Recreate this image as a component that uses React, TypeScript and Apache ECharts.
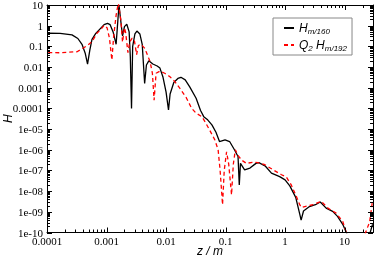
import React, { useEffect, useRef } from "react";
import * as echarts from "echarts";

// ---- data ----
const xTickLabels = ["0.0001", "0.001", "0.01", "0.1", "1", "10"]; // 1e-4 .. 1e1
const yTickLabels = ["1e-10", "1e-09", "1e-08", "1e-07", "1e-06", "1e-05", "0.0001", "0.001", "0.01", "0.1", "1", "10"]; // 1e-10 .. 1e1

const seriesNames = ["H_m160", "Q2_H_m192"];

const blackZ = [
  1e-4, 1.66e-4, 2.63e-4, 3.3e-4, 3.9e-4, 4.4e-4, 4.8e-4, 5.25e-4, 5.7e-4, 6.6e-4,
  7.8e-4, 9.1e-4, 1.04e-3, 1.15e-3, 1.29e-3, 1.45e-3, 1.51e-3, 1.62e-3, 1.74e-3, 1.86e-3,
  2.0e-3, 2.19e-3, 2.4e-3, 2.51e-3, 2.63e-3, 2.75e-3, 3.0e-3, 3.24e-3, 3.63e-3, 3.98e-3,
  4.37e-3, 4.68e-3, 5.13e-3, 6.0e-3, 7.1e-3, 7.9e-3, 8.9e-3, 1.0e-2, 1.1e-2, 1.17e-2,
  1.35e-2, 1.58e-2, 1.78e-2, 2.1e-2, 2.5e-2, 3.2e-2, 3.8e-2, 4.3e-2, 5.0e-2, 5.9e-2,
  6.9e-2, 7.9e-2, 9.8e-2, 0.117, 0.141, 0.162, 0.17, 0.178, 0.209, 0.257,
  0.324, 0.363, 0.468, 0.59, 0.81, 1.0, 1.2, 1.51, 1.76, 1.86,
  2.04, 2.57, 3.24, 3.9, 4.9, 6.3, 7.6, 9.3, 10.7, 14,
  24, 26.3, 29.5,
];
const blackH = [
  0.43, 0.42, 0.36, 0.24, 0.12, 0.045, 0.014, 0.068, 0.22, 0.42,
  0.7, 1.12, 1.3, 1.12, 0.5, 0.126, 0.63, 10, 1.6, 0.32,
  0.9, 1.17, 0.5, 0.032, 1e-4, 0.1, 0.4, 0.55, 0.4, 0.126,
  1.6e-3, 1.26e-2, 2.0e-2, 1.4e-2, 1.12e-2, 8.9e-3, 3.2e-3, 6.3e-4, 8.5e-5, 5e-4,
  1.8e-3, 2.8e-3, 3.2e-3, 2.4e-3, 1.1e-3, 3.1e-4, 7.9e-5, 4e-5, 2.8e-5, 1.6e-5,
  7e-6, 2.5e-6, 3e-6, 2.5e-6, 1e-6, 4.7e-7, 2e-8, 2.2e-7, 1.07e-7, 1.3e-7,
  2.2e-7, 2.4e-7, 1.6e-7, 7.4e-8, 5e-8, 3.5e-8, 1.8e-8, 5e-9, 8e-10, 4e-10,
  1.1e-9, 1.8e-9, 2.2e-9, 3e-9, 1.5e-9, 1.05e-9, 6e-10, 2.5e-10, 1e-10, 1e-11,
  1e-11, 8e-11, 2.5e-10,
];

const redZ = [
  1.05e-4, 1.66e-4, 3.2e-4, 4e-4, 4.9e-4, 5.7e-4, 6.9e-4, 8.3e-4, 9.1e-4, 1.02e-3,
  1.12e-3, 1.23e-3, 1.32e-3, 1.45e-3, 1.58e-3, 1.74e-3, 1.86e-3, 2.0e-3, 2.1e-3, 2.29e-3,
  2.45e-3, 2.7e-3, 2.95e-3, 3.2e-3, 3.43e-3, 3.8e-3, 4.4e-3, 5.4e-3, 5.9e-3, 6.3e-3,
  6.8e-3, 7.9e-3, 9.5e-3, 1.15e-2, 1.4e-2, 1.7e-2, 2.2e-2, 2.7e-2, 3.2e-2, 4e-2,
  4.5e-2, 5.4e-2, 6.6e-2, 7.5e-2, 8.1e-2, 8.9e-2, 9.5e-2, 0.104, 0.113, 0.126,
  0.135, 0.146, 0.16, 0.185, 0.224, 0.29, 0.35, 0.457, 0.63, 0.87,
  1.05, 1.27, 1.55, 1.76, 1.9, 2.14, 2.95, 4.07, 5.25, 7.2,
  9.3, 10.7, 12, 19.3, 22.5, 26.3, 29.5,
];
const redH = [
  0.05, 0.049, 0.055, 0.081, 0.117, 0.17, 0.43, 0.74, 1.05, 0.8,
  0.25, 0.022, 0.32, 3.2, 12.6, 1.9, 0.16, 0.8, 0.45, 0.05,
  0.16, 0.25, 0.18, 0.04, 0.11, 0.126, 0.08, 0.018, 5e-3, 2.5e-4,
  5e-3, 6.3e-3, 5e-3, 3.5e-3, 2e-3, 9.5e-4, 3.2e-4, 1e-4, 5.9e-5, 4e-5,
  2.3e-5, 9e-6, 3e-6, 1e-6, 1e-7, 2.2e-9, 1e-7, 8e-7, 2e-7, 6.6e-9,
  2e-7, 1e-6, 5.6e-7, 3.2e-7, 2.2e-7, 2.5e-7, 2.4e-7, 1.9e-7, 1.07e-7, 6.2e-8,
  4.8e-8, 2e-8, 5.5e-9, 2.2e-9, 1.6e-9, 1.8e-9, 2.2e-9, 3.2e-9, 1.5e-9, 8.7e-10,
  3.4e-10, 1e-10, 1.6e-11, 1.6e-11, 1e-10, 3.2e-10, 3.5e-9,
];

const X_MIN = 1e-4;
const X_MAX = 30;
const Y_MIN = 1e-10;
const Y_MAX = 10;

function labelFor(v: number, labels: string[], firstExp: number): string {
  const l = Math.log10(v);
  const e = Math.round(l);
  if (Math.abs(l - e) > 1e-6) return "";
  return labels[e - firstExp] ?? "";
}

export default function App() {
  const ref = useRef<HTMLDivElement>(null);
  useEffect(() => {
    if (!ref.current) return;
    const chart = echarts.init(ref.current, undefined, { renderer: "svg" });

    // tick positions (major 10^k and minor 2..9 x 10^k) inside the axis ranges
    const tickData: number[][] = [];
    for (let e = -4; e <= 1; e++) {
      for (let m = 1; m <= 9; m++) {
        const v = m * Math.pow(10, e);
        if (v < X_MAX) tickData.push([v, 1, 0, m === 1 ? 5 : 3]);
      }
    }
    for (let e = -10; e <= 1; e++) {
      for (let m = 1; m <= 9; m++) {
        const v = m * Math.pow(10, e);
        if (v <= Y_MAX) tickData.push([1, v, 1, m === 1 ? 5 : 3]);
      }
    }

    const serif = "Liberation Serif";
    const sans = "Liberation Sans";
    const black = "#000";

    const baseX = {
      type: "log" as const,
      logBase: 10,
      min: X_MIN,
      max: X_MAX,
      interval: 1,
      splitLine: { show: false },
      axisLine: { show: true, lineStyle: { color: black, width: 1 } },
      axisTick: { show: false },
    };
    const baseY = {
      type: "log" as const,
      logBase: 10,
      min: Y_MIN,
      max: Y_MAX,
      interval: 1,
      splitLine: { show: false },
      axisLine: { show: true, lineStyle: { color: black, width: 1 } },
      axisTick: { show: false },
    };

    const sub = { fontSize: 8, fontFamily: sans, fontStyle: "italic", padding: [6, 0, 0, 0], color: "#000" };
    const main = { fontSize: 12, fontFamily: sans, fontStyle: "italic", color: "#000" };

    chart.setOption({
      animation: false,
      grid: { left: 47, right: 1, top: 5, bottom: 25.5, containLabel: false, outerBoundsMode: "none" },
      legend: {
        data: seriesNames,
        orient: "vertical",
        left: 273,
        top: 18,
        padding: [4, 5, 3, 10],
        itemGap: 4,
        itemWidth: 10,
        itemHeight: 10,
        borderColor: "#888",
        borderWidth: 1,
        borderRadius: 0,
        backgroundColor: "#fff",
        itemStyle: { opacity: 0, borderWidth: 0 },
        formatter: (name: string) =>
          name === seriesNames[0] ? "{i|H}{s|m/160}" : "{i|Q}{s|2}{i| H}{s|m/192}",
        textStyle: { rich: { i: main, s: sub } },
      },
      xAxis: [
        {
          ...baseX,
          position: "bottom",
          name: "z / m",
          nameLocation: "middle",
          nameGap: 12.5,
          nameMoveOverlap: false,
          nameTextStyle: { fontFamily: sans, fontStyle: "italic", fontSize: 12, color: black },
          axisLabel: {
            show: true,
            margin: 3,
            fontFamily: serif,
            fontSize: 11,
            color: black,
            formatter: (v: number) => labelFor(v, xTickLabels, -4),
          },
        },
        { ...baseX, position: "top", axisLabel: { show: false } },
      ],
      yAxis: [
        {
          ...baseY,
          position: "left",
          name: "H",
          nameLocation: "middle",
          nameGap: 33,
          nameRotate: 90,
          nameMoveOverlap: false,
          nameTextStyle: { fontFamily: sans, fontStyle: "italic", fontSize: 12, color: black },
          axisLabel: {
            show: true,
            margin: 4,
            fontFamily: serif,
            fontSize: 11,
            color: black,
            formatter: (v: number) => labelFor(v, yTickLabels, -10),
          },
        },
        { ...baseY, position: "right", axisLabel: { show: false } },
      ],
      series: [
        {
          name: seriesNames[0],
          type: "line",
          xAxisIndex: 0,
          yAxisIndex: 0,
          data: blackZ.map((z, i) => [z, blackH[i]]),
          showSymbol: false,
          symbol: "none",
          clip: true,
          lineStyle: { color: "#000", width: 1.3 },
          itemStyle: { color: "#000" },
          z: 3,
        },
        {
          name: seriesNames[1],
          type: "line",
          xAxisIndex: 0,
          yAxisIndex: 0,
          data: redZ.map((z, i) => [z, redH[i]]),
          showSymbol: false,
          symbol: "none",
          clip: true,
          lineStyle: { color: "#ff0000", width: 1.3, type: [4, 3] },
          itemStyle: { color: "#ff0000" },
          z: 4,
        },
        {
          name: "ticks",
          type: "custom",
          xAxisIndex: 0,
          yAxisIndex: 0,
          silent: true,
          z: 5,
          data: tickData,
          renderItem: (params: any, api: any) => {
            const cs = params.coordSys;
            const kind = api.value(2);
            const len = api.value(3);
            const st = { stroke: "#000", lineWidth: 1 };
            if (kind === 0) {
              const px = Math.round(api.coord([api.value(0), 1])[0]) + 0.5;
              const yb = cs.y + cs.height;
              return {
                type: "group",
                children: [
                  { type: "line", shape: { x1: px, y1: yb, x2: px, y2: yb - len }, style: st },
                  { type: "line", shape: { x1: px, y1: cs.y, x2: px, y2: cs.y + len }, style: st },
                ],
              };
            }
            const py = Math.round(api.coord([1, api.value(1)])[1]) + 0.5;
            const xr = cs.x + cs.width;
            return {
              type: "group",
              children: [
                { type: "line", shape: { x1: cs.x, y1: py, x2: cs.x + len, y2: py }, style: st },
                { type: "line", shape: { x1: xr, y1: py, x2: xr - len, y2: py }, style: st },
              ],
            };
          },
        },
      ],
    });
    return () => chart.dispose();
  }, []);
  return <div ref={ref} style={{ position: "fixed", left: 0, top: 0, width: 374, height: 258 }} />;
}
